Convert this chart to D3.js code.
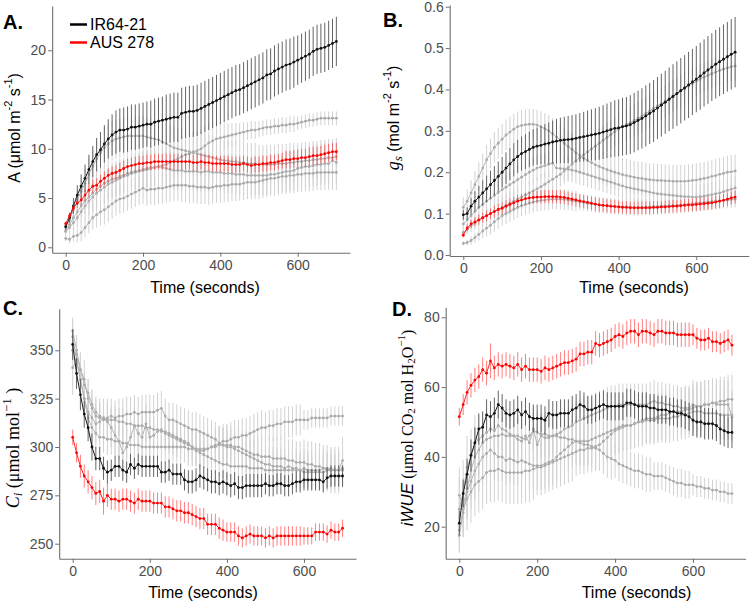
<!DOCTYPE html>
<html><head><meta charset="utf-8">
<script src="https://cdn.jsdelivr.net/npm/d3@7"></script>
<style>body{margin:0;background:#fff}svg{display:block}</style>
</head><body>
<svg id="chart" width="752" height="604"></svg>
<script>
const times = [0,10,20,30,40,50,60,70,80,90,100,110,120,130,140,150,160,170,180,190,200,210,220,230,240,250,260,270,280,290,300,310,320,330,340,350,360,370,380,390,400,410,420,430,440,450,460,470,480,490,500,510,520,530,540,550,560,570,580,590,600,610,620,630,640,650,660,670,680,690,700];
const legendLabels = ["IR64-21","AUS 278"];

// ---------- Panel A : A (µmol m-2 s-1) ----------
const A_IR64 = [2.1,3.0,4.2,5.3,6.2,7.0,7.9,8.7,9.4,9.9,
10.5,11.0,11.4,11.7,11.9,11.9,12.0,12.2,12.2,12.3,
12.4,12.5,12.5,12.7,12.8,12.9,13.0,13.1,13.2,13.2,
13.6,13.7,13.8,13.8,13.9,14.1,14.3,14.5,14.7,14.9,
15.1,15.3,15.5,15.7,15.9,16.0,16.2,16.4,16.6,16.8,
17.0,17.2,17.5,17.6,17.9,18.1,18.3,18.5,18.6,18.8,
19.0,19.2,19.4,19.6,19.9,20.1,20.2,20.3,20.5,20.7,20.9];
const A_IR64_se = [0.3,0.5,0.8,1.0,1.2,1.4,1.5,1.6,1.7,1.8,
1.9,2.0,2.1,2.2,2.2,2.3,2.3,2.3,2.3,2.3,
2.3,2.3,2.4,2.4,2.4,2.4,2.5,2.5,2.5,2.5,
2.6,2.6,2.6,2.6,2.6,2.6,2.6,2.6,2.6,2.6,
2.6,2.6,2.6,2.6,2.6,2.6,2.6,2.6,2.6,2.6,
2.6,2.6,2.6,2.6,2.6,2.6,2.6,2.6,2.6,2.6,
2.5,2.5,2.5,2.5,2.5,2.5,2.5,2.5,2.5,2.5,2.5];
const A_AUS = [2.4,3.2,4.0,4.5,4.8,5.3,5.8,6.2,6.3,6.7,
7.0,7.3,7.5,7.6,7.8,8.0,8.2,8.3,8.4,8.5,
8.5,8.6,8.6,8.7,8.7,8.7,8.7,8.7,8.7,8.7,
8.7,8.7,8.7,8.6,8.6,8.7,8.6,8.6,8.5,8.5,
8.5,8.5,8.5,8.4,8.4,8.4,8.5,8.4,8.3,8.4,
8.4,8.5,8.5,8.6,8.6,8.7,8.8,8.9,8.9,9.0,
9.0,9.1,9.1,9.2,9.3,9.3,9.4,9.5,9.6,9.7,9.7];
const A_AUS_se = [0.2,0.3,0.4,0.5,0.5,0.6,0.6,0.7,0.7,0.7,
0.7,0.7,0.7,0.7,0.8,0.8,0.8,0.8,0.8,0.8,
0.8,0.8,0.8,0.8,0.8,0.8,0.8,0.8,0.8,0.8,
0.8,0.8,0.8,0.8,0.8,0.8,0.8,0.8,0.8,0.8,
0.8,0.8,0.8,0.8,0.8,0.8,0.8,0.8,0.8,0.8,
0.8,0.8,0.8,0.8,0.8,0.8,0.8,0.9,0.9,0.9,
0.9,0.9,0.9,0.9,0.9,0.9,0.9,0.9,0.9,0.9,0.9];
const A_G1 = [2.0,2.8,3.8,4.8,5.7,6.5,7.4,8.2,9.0,9.6,
10.1,10.5,10.8,11.0,11.1,11.2,11.3,11.3,11.3,11.3,
11.3,11.2,11.1,11.0,10.9,10.7,10.5,10.3,10.1,10.0,
9.9,9.8,9.7,9.6,9.5,9.4,9.3,9.2,9.1,9.0,
8.9,8.8,8.8,8.7,8.7,8.6,8.6,8.5,8.5,8.5,
8.4,8.4,8.4,8.4,8.4,8.5,8.5,8.5,8.6,8.6,
8.7,8.7,8.8,8.8,8.9,8.9,9.0,9.0,9.1,9.1,9.2];
const A_G1_se = [0.4,0.6,0.9,1.1,1.3,1.5,1.6,1.7,1.8,1.9,
2.0,2.0,2.0,2.0,2.0,2.0,2.0,2.0,2.0,2.0,
2.1,2.1,2.1,2.1,2.1,2.1,2.1,2.1,2.1,2.1,
2.2,2.2,2.2,2.2,2.2,2.2,2.2,2.2,2.2,2.2,
2.1,2.1,2.1,2.1,2.1,2.1,2.1,2.1,2.1,2.1,
2.0,2.0,2.0,2.0,2.0,2.0,2.0,2.0,2.0,2.0,
1.9,1.9,1.9,1.9,1.9,1.9,1.9,1.9,1.9,1.9,1.9];
const A_G2 = [1.6,2.0,2.5,3.0,3.6,4.2,4.7,5.1,5.5,5.8,
6.1,6.4,6.6,6.8,7.0,7.2,7.3,7.5,7.6,7.7,
7.8,7.9,8.0,8.1,8.2,8.3,8.4,8.6,8.8,9.0,
9.2,9.4,9.5,9.7,9.8,10.0,10.3,10.6,10.8,11.0,
11.1,11.2,11.3,11.4,11.5,11.6,11.7,11.8,11.9,11.9,
12.0,12.1,12.2,12.2,12.3,12.3,12.4,12.4,12.5,12.5,
12.6,12.7,12.8,12.9,12.9,13.0,13.1,13.1,13.1,13.1,13.1];
const A_G2_se = [0.5,0.7,0.9,1.0,1.2,1.3,1.4,1.5,1.6,1.6,
1.7,1.7,1.7,1.7,1.7,1.7,1.7,1.7,1.7,1.7,
1.9,1.9,1.9,1.9,1.9,1.9,1.9,1.9,1.9,1.9,
2.0,2.0,2.0,2.0,2.0,2.0,2.0,2.0,2.0,2.0,
1.5,1.4,1.3,1.2,1.1,1.0,1.0,0.9,0.9,0.9,
0.8,0.8,0.8,0.8,0.8,0.8,0.8,0.8,0.8,0.8,
0.7,0.7,0.7,0.7,0.7,0.7,0.7,0.7,0.7,0.7,0.7];
const A_G3 = [1.7,2.3,3.0,3.6,4.2,4.7,5.1,5.5,5.9,6.2,
6.5,6.7,6.9,7.0,7.2,7.3,7.5,7.6,7.7,7.8,
7.9,8.0,8.1,8.1,8.2,8.1,8.0,7.9,7.8,7.8,
7.8,7.7,7.7,7.7,7.7,7.6,7.7,7.7,7.6,7.6,
7.6,7.5,7.5,7.5,7.4,7.4,7.4,7.3,7.3,7.3,
7.3,7.3,7.3,7.4,7.4,7.5,7.6,7.7,7.7,7.8,
8.0,8.1,8.2,8.2,8.3,8.4,8.4,8.5,8.5,8.8,8.6];
const A_G3_se = [0.3,0.5,0.7,0.9,1.1,1.3,1.4,1.5,1.6,1.7,
1.8,1.8,1.8,1.8,1.8,1.8,1.8,1.8,1.8,1.8,
1.9,1.9,1.9,1.9,1.9,1.9,1.9,1.9,1.9,1.9,
2.0,2.0,2.0,2.0,2.0,2.0,2.0,2.0,2.0,2.0,
2.0,2.0,2.0,2.0,2.0,2.0,2.0,2.0,2.0,2.0,
2.0,2.0,2.0,2.0,2.0,2.0,2.0,2.0,2.0,2.0,
2.1,2.1,2.1,2.1,2.1,2.1,2.1,2.1,2.1,2.1,2.1];
const A_G4 = [0.9,0.8,1.1,1.2,1.5,2.0,2.5,3.0,3.3,3.6,
3.8,4.1,4.4,4.7,4.9,5.0,5.2,5.4,5.6,5.8,
6.0,5.8,5.9,5.9,6.0,6.0,6.1,6.2,6.3,6.3,
6.3,6.3,6.2,6.2,6.1,6.1,6.1,6.0,6.1,6.2,
6.2,6.3,6.3,6.4,6.4,6.4,6.5,6.6,6.6,6.6,
6.7,6.8,6.9,7.0,7.0,7.1,7.2,7.2,7.3,7.3,
7.4,7.4,7.5,7.5,7.5,7.6,7.6,7.6,7.6,7.6,7.6];
const A_G4_se = [0.3,0.4,0.5,0.7,0.9,1.0,1.1,1.2,1.3,1.4,
1.5,1.5,1.5,1.5,1.5,1.5,1.5,1.5,1.5,1.5,
1.6,1.6,1.6,1.6,1.6,1.6,1.6,1.6,1.6,1.6,
1.7,1.7,1.7,1.7,1.7,1.7,1.7,1.7,1.7,1.7,
1.7,1.7,1.7,1.7,1.7,1.7,1.7,1.7,1.7,1.7,
1.8,1.8,1.8,1.8,1.8,1.8,1.8,1.8,1.8,1.8,
1.8,1.8,1.8,1.8,1.8,1.8,1.8,1.8,1.8,1.8,1.8];

// ---------- Panel B : gs (mol m-2 s-1) ----------
const B_IR64 = [0.097,0.100,0.118,0.130,0.140,0.150,0.160,0.170,0.180,0.190,
0.200,0.210,0.220,0.230,0.238,0.245,0.250,0.255,0.260,0.263,
0.265,0.268,0.270,0.273,0.275,0.277,0.278,0.279,0.280,0.282,
0.284,0.286,0.288,0.290,0.292,0.294,0.297,0.300,0.303,0.306,
0.307,0.310,0.312,0.315,0.320,0.325,0.330,0.336,0.342,0.348,
0.355,0.362,0.369,0.376,0.383,0.390,0.397,0.404,0.411,0.418,
0.425,0.432,0.440,0.447,0.454,0.461,0.467,0.473,0.479,0.485,0.490];
const B_IR64_se = [0.012,0.015,0.020,0.024,0.027,0.030,0.032,0.034,0.035,0.036,
0.037,0.038,0.039,0.040,0.040,0.041,0.042,0.043,0.044,0.045,
0.046,0.048,0.050,0.052,0.054,0.055,0.056,0.057,0.058,0.058,
0.059,0.060,0.061,0.062,0.063,0.064,0.065,0.066,0.067,0.068,
0.069,0.070,0.070,0.071,0.072,0.072,0.073,0.074,0.074,0.075,
0.075,0.076,0.076,0.077,0.078,0.078,0.079,0.079,0.080,0.080,
0.080,0.081,0.081,0.082,0.082,0.083,0.083,0.084,0.084,0.085,0.085];
const B_AUS = [0.048,0.065,0.075,0.080,0.085,0.090,0.095,0.100,0.105,0.110,
0.113,0.118,0.122,0.126,0.130,0.133,0.136,0.138,0.139,0.140,
0.140,0.141,0.141,0.141,0.141,0.140,0.139,0.137,0.135,0.133,
0.131,0.129,0.127,0.125,0.123,0.121,0.120,0.119,0.118,0.117,
0.116,0.115,0.115,0.114,0.114,0.114,0.114,0.114,0.114,0.115,
0.115,0.116,0.116,0.117,0.118,0.118,0.119,0.120,0.121,0.121,
0.122,0.123,0.124,0.125,0.126,0.128,0.130,0.132,0.135,0.138,0.140];
const B_AUS_se = [0.006,0.008,0.010,0.011,0.012,0.012,0.013,0.013,0.014,0.014,
0.015,0.015,0.015,0.015,0.015,0.015,0.015,0.015,0.015,0.015,
0.016,0.016,0.016,0.016,0.016,0.016,0.016,0.016,0.016,0.016,
0.016,0.016,0.016,0.016,0.016,0.016,0.016,0.016,0.016,0.016,
0.015,0.015,0.015,0.015,0.015,0.015,0.015,0.015,0.015,0.015,
0.015,0.015,0.015,0.015,0.015,0.015,0.015,0.015,0.015,0.015,
0.016,0.016,0.016,0.016,0.016,0.016,0.016,0.016,0.016,0.016,0.016];
const B_G1 = [0.115,0.130,0.150,0.170,0.190,0.210,0.230,0.245,0.260,0.270,
0.280,0.290,0.297,0.304,0.310,0.313,0.315,0.316,0.316,0.314,
0.310,0.305,0.300,0.293,0.285,0.278,0.270,0.262,0.255,0.247,
0.240,0.234,0.228,0.223,0.218,0.214,0.210,0.206,0.203,0.200,
0.197,0.194,0.192,0.190,0.188,0.186,0.185,0.183,0.182,0.181,
0.180,0.180,0.179,0.179,0.178,0.178,0.178,0.178,0.179,0.180,
0.181,0.183,0.185,0.187,0.190,0.192,0.195,0.197,0.200,0.201,0.203];
const B_G1_se = [0.025,0.028,0.030,0.032,0.034,0.035,0.036,0.036,0.037,0.037,
0.037,0.037,0.037,0.037,0.037,0.037,0.037,0.037,0.037,0.037,
0.038,0.038,0.038,0.038,0.038,0.038,0.038,0.038,0.038,0.038,
0.040,0.040,0.040,0.040,0.040,0.040,0.040,0.040,0.040,0.040,
0.040,0.040,0.040,0.040,0.040,0.040,0.040,0.040,0.040,0.040,
0.040,0.040,0.040,0.040,0.040,0.040,0.040,0.040,0.040,0.040,
0.040,0.040,0.040,0.040,0.040,0.040,0.040,0.040,0.040,0.040,0.040];
const B_G2 = [0.055,0.062,0.070,0.077,0.084,0.090,0.095,0.100,0.105,0.110,
0.115,0.120,0.125,0.130,0.135,0.140,0.145,0.150,0.155,0.160,
0.165,0.171,0.177,0.183,0.189,0.195,0.203,0.211,0.219,0.227,
0.235,0.242,0.249,0.256,0.263,0.270,0.277,0.284,0.291,0.298,
0.305,0.310,0.315,0.320,0.325,0.330,0.336,0.342,0.348,0.354,
0.360,0.366,0.372,0.378,0.384,0.390,0.396,0.402,0.408,0.414,
0.420,0.425,0.430,0.434,0.438,0.442,0.446,0.449,0.452,0.455,0.457];
const B_G2_se = [0.010,0.012,0.014,0.016,0.018,0.020,0.022,0.024,0.025,0.026,
0.027,0.027,0.027,0.027,0.027,0.027,0.027,0.027,0.027,0.027,
0.030,0.030,0.030,0.030,0.030,0.030,0.030,0.030,0.030,0.030,
0.035,0.035,0.035,0.035,0.035,0.035,0.035,0.035,0.035,0.035,
0.040,0.040,0.040,0.040,0.040,0.040,0.040,0.040,0.040,0.040,
0.040,0.040,0.040,0.040,0.040,0.040,0.040,0.040,0.040,0.040,
0.035,0.035,0.035,0.035,0.035,0.035,0.035,0.035,0.035,0.035,0.035];
const B_G3 = [0.075,0.085,0.095,0.105,0.115,0.122,0.130,0.137,0.144,0.151,
0.158,0.164,0.170,0.176,0.182,0.188,0.194,0.200,0.205,0.210,
0.213,0.216,0.219,0.222,0.210,0.209,0.208,0.207,0.205,0.203,
0.200,0.197,0.194,0.191,0.188,0.185,0.182,0.179,0.176,0.173,
0.170,0.167,0.164,0.162,0.160,0.158,0.156,0.154,0.152,0.150,
0.148,0.147,0.146,0.145,0.144,0.143,0.142,0.141,0.141,0.140,
0.140,0.141,0.142,0.144,0.146,0.148,0.150,0.153,0.156,0.159,0.162];
const B_G3_se = [0.015,0.018,0.020,0.022,0.024,0.026,0.028,0.030,0.030,0.030,
0.030,0.030,0.030,0.030,0.030,0.030,0.030,0.030,0.030,0.030,
0.030,0.030,0.030,0.030,0.030,0.030,0.030,0.030,0.030,0.030,
0.030,0.030,0.030,0.030,0.030,0.030,0.030,0.030,0.030,0.030,
0.030,0.030,0.030,0.030,0.030,0.030,0.030,0.030,0.030,0.030,
0.030,0.030,0.030,0.030,0.030,0.030,0.030,0.030,0.030,0.030,
0.030,0.030,0.030,0.030,0.030,0.030,0.030,0.030,0.030,0.030,0.030];
const B_G4 = [0.028,0.030,0.035,0.042,0.050,0.058,0.065,0.072,0.080,0.088,
0.095,0.100,0.105,0.110,0.115,0.119,0.122,0.125,0.128,0.130,
0.132,0.133,0.134,0.135,0.135,0.135,0.134,0.133,0.131,0.130,
0.128,0.127,0.125,0.124,0.122,0.121,0.120,0.119,0.118,0.118,
0.117,0.117,0.116,0.116,0.115,0.115,0.115,0.116,0.116,0.117,
0.117,0.118,0.118,0.119,0.119,0.120,0.121,0.122,0.123,0.124,
0.125,0.126,0.127,0.128,0.129,0.130,0.131,0.132,0.133,0.134,0.135];
const B_G4_se = [0.005,0.007,0.010,0.012,0.015,0.017,0.020,0.022,0.024,0.025,
0.025,0.025,0.025,0.025,0.025,0.025,0.025,0.025,0.025,0.025,
0.025,0.025,0.025,0.025,0.025,0.025,0.025,0.025,0.025,0.025,
0.020,0.020,0.020,0.020,0.020,0.020,0.020,0.020,0.020,0.020,
0.020,0.020,0.020,0.020,0.020,0.020,0.020,0.020,0.020,0.020,
0.020,0.020,0.020,0.020,0.020,0.020,0.020,0.020,0.020,0.020,
0.020,0.020,0.020,0.020,0.020,0.020,0.020,0.020,0.020,0.020,0.020];

// ---------- Panel C : Ci (µmol mol-1) ----------
const C_IR64 = [353,338,327,317,310,300,294,294,289,287,
288,290,290,288,287,291,289,291,290,290,
290,290,290,287,287,288,286,286,286,283,
282,282,283,285,284,283,282,282,281,282,
281,280,281,279,279,280,280,280,280,280,
281,280,280,281,281,280,280,281,282,282,
283,283,283,283,283,282,284,285,285,285,285];
const C_IR64_se = [8,8,8,7,7,7,6,6,6,6,
5.5,5.5,5.5,5.5,5.5,5.5,5.5,5.5,5.5,5.5,
5.5,5.5,5.5,5.5,5.5,5.5,5.5,5.5,5.5,5.5,
6,6,6,6,6,6,6,6,6,6,
6,6,6,6,6,6,6,6,6,6,
5.5,5.5,5.5,5.5,5.5,5.5,5.5,5.5,5.5,5.5,
5.5,5.5,5.5,5.5,5.5,5.5,5.5,5.5,5.5,5.5,5.5];
const C_AUS = [305,297,290,285,282,279,276,277,272,275,
273,273,272,273,273,272,271,273,272,272,
272,271,271,271,269,269,268,267,267,266,
266,265,264,263,263,260,260,260,258,257,
256,256,256,254,253,254,255,254,254,254,
253,254,253,254,254,254,254,254,254,254,
254,254,254,256,256,256,255,257,256,256,258];
const C_AUS_se = [4,5,6,6,6,6,6,6,7,6,
5.5,5.5,5.5,5.5,5.5,5.5,5.5,5.5,5.5,5.5,
5.5,5.5,5.5,5.5,5.5,5.5,5.5,5.5,5.5,5.5,
5.5,5.5,5.5,5.5,5.5,5.5,5.5,5.5,5.5,5.5,
5,5,5,5,5,5,5,5,5,5,
5,5,5,5,5,5,5,5,5,5,
4.5,4.5,4.5,4.5,4.5,4.5,4.5,4.5,4.5,4.5,4.5];
const C_G1 = [360,350,340,335,325,320,316,315,314,315,
316,315,316,316,317,317,318,317,318,318,
318,318,319,320,316,314,314,313,312,311,
310,309,309,308,307,306,305,304,302,301,
300,300,299,298,297,296,295,294,293,292,
291,291,290,290,290,289,290,289,289,288,
289,288,288,288,288,289,288,289,288,288,289];
const C_G1_se = [7,8,9,10,10,10,10,10,10,10,
9,9,9,9,9,9,9,9,9,9,
9,9,9,9,9,9,9,9,9,9,
9,9,9,9,9,9,9,9,9,9,
9,9,9,9,9,9,9,9,9,9,
10,10,10,10,10,10,10,10,10,10,
10,10,10,10,10,10,10,10,10,10,10];
const C_G2 = [341,345,335,325,318,315,312,313,315,313,
310,306,303,297,300,305,311,307,305,312,
305,306,308,309,307,306,305,304,303,302,
301,300,299,298,298,299,300,301,302,303,
303,304,305,305,306,306,307,308,309,310,
310,311,311,312,312,313,313,313,314,314,
314,314,315,315,315,315,315,316,316,316,316];
const C_G2_se = [14,12,11,10,10,10,10,10,10,10,
10,10,10,10,10,10,10,10,10,10,
9,9,9,9,9,9,9,9,9,9,
9,9,9,9,9,9,9,9,9,9,
9,9,9,9,9,9,9,9,9,9,
8,8,8,8,8,8,8,8,8,8,
5,5,5,5,5,5,5,5,5,5,5];
const C_G3 = [357,345,335,325,315,310,307,305,305,304,
304,303,303,302,302,301,301,301,300,300,
300,300,300,300,300,300,300,300,300,300,
299,299,299,299,299,299,300,300,301,301,
301,301,300,300,299,298,297,296,296,295,
295,295,294,294,294,294,293,293,292,292,
292,291,291,290,290,289,289,288,288,288,293];
const C_G3_se = [8,8,8,8,8,8,8,8,8,8,
8,8,8,8,8,8,8,8,8,8,
8,8,8,8,8,8,8,8,8,8,
9,9,9,9,9,9,9,9,9,9,
10,10,10,10,10,10,10,10,10,10,
11,11,11,11,11,11,11,11,11,11,
12,12,12,12,12,12,12,12,12,12,12];
const C_G4 = [350,348,340,332,328,322,318,316,315,314,
314,314,313,313,312,312,311,311,311,310,
310,309,309,308,308,307,306,305,304,303,
302,300,298,297,296,295,294,293,292,291,
291,290,290,290,290,290,289,289,289,289,
288,288,288,288,288,288,288,288,288,288,
287,287,287,287,287,287,288,288,288,288,288];
const C_G4_se = [6,6,7,7,7,7,7,7,7,7,
7,7,7,7,7,7,7,7,7,7,
7,7,7,7,7,7,7,7,7,7,
7,7,7,7,7,7,7,7,7,7,
8,8,8,8,8,8,8,8,8,8,
8,8,8,8,8,8,8,8,8,8,
8,8,8,8,8,8,8,8,8,8,8];

// ---------- Panel D : iWUE ----------
const D_IR64 = [21,29.5,35,40.5,44,48,48.5,52,51.5,52.5,
55,54,52.5,52,52.5,53.5,52,53,51.5,51,
51,51,50.5,52.5,52,52,52.5,52.5,52.5,53.5,
54,55,54.5,53.5,53.5,54,54.5,55,54.5,54.5,
54.5,54.5,54.5,55.5,55.5,55,54.5,54.5,54.5,54,
54,53.5,53.5,53.5,53,53,52.5,52.5,52,51.5,
50.5,50,50,49.5,49.5,49.5,49,48,47.5,47,47];
const D_IR64_se = [3.5,4,4.5,4.5,4.5,4.5,4.5,4.5,4.5,4.5,
4,4,4,4,4,4,4,4,4,4,
4,4,4,4,4,4,4,4,4,4,
4,4,4,4,4,4,4,4,4,4,
4,4,4,4,4,4,4,4,4,4,
4,4,4,4,4,4,4,4,4,4,
4.5,4.5,4.5,4.5,4.5,4.5,4.5,4.5,4.5,4.5,4.5];
const D_AUS = [51.5,55,58.5,60.5,62,63,65,64,67.5,65.5,
66.5,66,66.5,66,65.5,66.5,65,66,65,65,
65,64.5,65.5,65,65.5,66,66.5,67,67,67.5,
68,69.5,69.5,70,70,72.5,72,72.5,73,73.5,
74.5,75,74.5,75.5,76,76,75,76,76,75.5,
75,76,76,75.5,75.5,75.5,75,75,75,75,
75,74,73.5,73.5,74,73,73,72.5,73,73.5,72];
const D_AUS_se = [2.5,3,3.5,3.5,3.5,3.5,3.5,3.5,5,3.5,
3.5,3.5,3.5,3.5,3.5,3.5,3.5,3.5,3.5,3.5,
3.5,3.5,3.5,3.5,3.5,3.5,3.5,3.5,3.5,3.5,
3.5,3.5,3.5,3.5,3.5,3.5,3.5,3.5,3.5,3.5,
3.5,3.5,3.5,3.5,3.5,3.5,3.5,3.5,3.5,3.5,
3.5,3.5,3.5,3.5,3.5,3.5,3.5,3.5,3.5,3.5,
3,3,3,3,3,3,3,3,3,3,3];
const D_G1 = [25,30,37,40,44,45,46,47,48,47.5,
49,48,47.5,46.5,46,46,45.5,45,46,47.5,
47,46.5,46.5,46,46,46,45.5,45.5,45,45,
44.5,44,43.5,43.5,43,42.5,42,41,40,39.5,
39,38,37.5,37,36.5,36,36,35.5,35,35,
34.5,34.5,34.5,34,33.5,33,32.5,32.5,32,32,
32,31.5,31.5,31,31,30.5,30.5,30,30,29.5,29.5];
const D_G1_se = [9,9,9,8,8,7,7,7,7,7,
6,6,6,6,6,6,6,6,6,6,
6,6,6,6,6,6,6,6,6,6,
6,6,6,6,6,6,6,6,6,6,
5,5,5,5,5,5,5,5,5,5,
4,4,4,4,4,4,4,4,4,4,
3,3,3,3,3,3,3,3,3,3,3];
const D_G2 = [19,25,28,30,32,33,34,35.5,36,36,
36.5,36,35.5,35.5,35.5,35.5,35.5,36,36,36.5,
37,37,37.5,38,38.5,39,39.5,40,40.5,41,
41.5,42,42,42.5,42.5,43,43.5,44.5,45.5,46.5,
47.5,48,48.5,49,49,49.5,50,50.5,51,51,
51,51.5,52,52,52.5,53,53,53,53.5,53.5,
54,54.5,54.5,55,55,55.5,55.5,56,56,56.5,56.5];
const D_G2_se = [6,8,9,9,9,9,9,9,9,9,
9,9,9,9,9,9,9,9,9,9,
8,8,8,8,8,8,8,8,8,8,
7,7,7,7,7,7,7,7,7,7,
7,7,7,7,7,7,7,7,7,7,
7,7,7,7,7,7,7,7,7,7,
7,7,7,7,7,7,7,7,7,7,7];
const D_G3 = [17.5,24,30,33,36,38,40,41,42,41,
40,40,39,39.5,39,38.5,39,38.5,38,37.5,
37.5,37.5,38,38.5,39,40,41,42,43,44,
44.5,44.5,44.5,44.5,45,45.5,46,46.5,47,47.5,
48,48.5,49,49,49,49.5,50,50,50.5,50.5,
50.5,51,51,51,51,51.5,51.5,52,52,52.5,
53,53,53,52.5,52.5,52.5,52.5,52,52,52,52];
const D_G3_se = [5,7,8,8,8,8,8,8,8,8,
7,7,7,7,7,7,7,7,7,7,
7,7,7,7,7,7,7,7,7,7,
7,7,7,7,7,7,7,7,7,7,
7,7,7,7,7,7,7,7,7,7,
7,7,7,7,7,7,7,7,7,7,
7,7,7,7,7,7,7,7,7,7,7];
const D_G4 = [29,26,31,36,40,42,44,45,45.5,46,
46,46.5,46,46,46,45,44.5,46,44,48,
43.5,46,45.5,45.5,46,46.5,47,48,48.5,49,
50,50.5,51,51.5,52,52.5,53,53.5,54,54.5,
54.5,55,55,55,55,55,55,55,55,55.5,
56,55.5,55.5,55,55,54.5,54.5,54,54,54,
55,54.5,54.5,55,55,55.5,55,55,55,55,51.5];
const D_G4_se = [8,8,8,8,8,7,7,7,7,7,
6,6,6,6,6,6,6,6,6,6,
6,6,6,6,6,6,6,6,6,6,
6,6,6,6,6,6,6,6,6,6,
6,6,6,6,6,6,6,6,6,6,
6,6,6,6,6,6,6,6,6,6,
7,7,7,7,7,7,7,7,7,7,7];

const xTicks = [0,200,400,600];
const A_yTicks = [0,5,10,15,20];
const B_yTicks = [0,0.1,0.2,0.3,0.4,0.5,0.6];
const C_yTicks = [250,275,300,325,350];
const D_yTicks = [20,40,60,80];

// ---------- styles ----------
const STY = {
  grey: {bar:"#d2d2d2", barOp:1, line:"#b4b4b4", pt:"#ababab"},
  black:{bar:"#555555", barOp:0.9, line:"#1a1a1a", pt:"#111111"},
  red:  {bar:"#ff2a2a", barOp:0.6, line:"#ff1f1f", pt:"#ff0000"}
};
const SANS = "'Liberation Sans', Arial, sans-serif";
const SERIF = "'Liberation Serif', 'Times New Roman', serif";

const panels = [
  {label:"A.", lx:3, ly:29, x0:65.7, x600:297.7, v1:0, p1:247.3, v2:20, p2:50.3, yDom:[-0.55,24.5],
   yTicks:A_yTicks, fmt:d3.format("d"),
   xt:{x:205, y:292.7}, yt:{x:14, y:128}, ytitle:"A",
   series:[[A_G1,A_G1_se,"grey"],[A_G2,A_G2_se,"grey"],[A_G3,A_G3_se,"grey"],[A_G4,A_G4_se,"grey"],
           [A_IR64,A_IR64_se,"black"],[A_AUS,A_AUS_se,"red"]]},
  {label:"B.", lx:383, ly:27, x0:463.3, x600:696.3, v1:0, p1:255, v2:0.6, p2:6.7, yDom:[-0.0024,0.604],
   yTicks:B_yTicks, fmt:d3.format(".1f"),
   xt:{x:634, y:292.7}, yt:{x:393, y:118}, ytitle:"B",
   series:[[B_G1,B_G1_se,"grey"],[B_G2,B_G2_se,"grey"],[B_G3,B_G3_se,"grey"],[B_G4,B_G4_se,"grey"],
           [B_IR64,B_IR64_se,"black"],[B_AUS,B_AUS_se,"red"]]},
  {label:"C.", lx:3, ly:315, x0:72.7, x600:304, v1:250, p1:543.7, v2:350, p2:350.3, yDom:[242.2,371.5],
   yTicks:C_yTicks, fmt:d3.format("d"),
   xt:{x:203, y:597.7}, yt:{x:13, y:448}, ytitle:"C",
   series:[[C_G1,C_G1_se,"grey"],[C_G2,C_G2_se,"grey"],[C_G3,C_G3_se,"grey"],[C_G4,C_G4_se,"grey"],
           [C_IR64,C_IR64_se,"black"],[C_AUS,C_AUS_se,"red"]]},
  {label:"D.", lx:392, ly:316, x0:459.3, x600:693, v1:20, p1:526.7, v2:80, p2:317.3, yDom:[10.8,82.9],
   yTicks:D_yTicks, fmt:d3.format("d"),
   xt:{x:636.5, y:598}, yt:{x:407, y:428}, ytitle:"D",
   series:[[D_G1,D_G1_se,"grey"],[D_G2,D_G2_se,"grey"],[D_G3,D_G3_se,"grey"],[D_G4,D_G4_se,"grey"],
           [D_IR64,D_IR64_se,"black"],[D_AUS,D_AUS_se,"red"]]}
];

const svg = d3.select("#chart");

function yTitle(g, kind){
  const t = g.append("text").attr("text-anchor","middle").attr("dominant-baseline","central")
     .attr("fill","#000");
  const add = (txt, o={}) => {
    const s = t.append("tspan").text(txt);
    for (const k in o) s.attr(k, o[k]);
    return s;
  };
  if (kind==="A"){
    t.style("font-family",SANS).style("font-size","16px");
    add("A");
    add(" (μmol m");
    add("-2",{dy:-6,"font-size":"11px"});
    add(" s",{dy:6});
    add("-1",{dy:-6,"font-size":"11px"});
    add(")",{dy:6});
  } else if (kind==="B"){
    t.style("font-family",SANS).style("font-size","16px");
    add("g",{"font-style":"italic","font-family":SERIF,"font-size":"18px"});
    add("s",{"font-style":"italic","font-family":SERIF,"font-size":"13px",dy:4});
    add(" (mol m",{dy:-4});
    add("-2",{dy:-6,"font-size":"11px"});
    add(" s",{dy:6});
    add("-1",{dy:-6,"font-size":"11px"});
    add(")",{dy:6});
  } else if (kind==="C"){
    t.style("font-family",SERIF).style("font-size","18px");
    add("C",{"font-style":"italic"});
    add("i",{"font-style":"italic","font-size":"13px",dy:4});
    add(" (μmol mol",{dy:-4});
    add("−1",{dy:-7,"font-size":"13px"});
    add(" )",{dy:7});
  } else {
    t.style("font-family",SERIF).style("font-size","16px");
    add("iWUE",{"font-style":"italic","font-family":SANS,"font-size":"17px"});
    add(" (μmol CO");
    add("2",{dy:4,"font-size":"11px"});
    add(" mol H",{dy:-4});
    add("2",{dy:4,"font-size":"11px"});
    add("O",{dy:-4});
    add("−1",{dy:-6,"font-size":"11px"});
    add(")",{dy:6});
  }
  return t;
}

panels.forEach(p => {
  const k = (p.x600 - p.x0)/600;
  const x = d3.scaleLinear().domain([-35,735]).range([p.x0 - 35*k, p.x0 + 735*k]);
  const ky = (p.p2 - p.p1)/(p.v2 - p.v1);
  const y = d3.scaleLinear().domain(p.yDom).range([p.p1 + (p.yDom[0]-p.v1)*ky, p.p1 + (p.yDom[1]-p.v1)*ky]);
  const g = svg.append("g");

  const order = ["grey","black","red"];
  order.forEach(col => {
    const st = STY[col];
    p.series.filter(s => s[2]===col).forEach(([vals, se]) => {
      const data = times.map((t,i)=>({t, v:vals[i], e:se[i]}));
      g.append("g").selectAll("line").data(data).join("line")
        .attr("x1", d=>x(d.t)).attr("x2", d=>x(d.t))
        .attr("y1", d=>y(d.v-d.e)).attr("y2", d=>y(d.v+d.e))
        .attr("stroke", st.bar).attr("stroke-opacity", st.barOp).attr("stroke-width",1);
    });
    p.series.filter(s => s[2]===col).forEach(([vals]) => {
      const data = times.map((t,i)=>({t, v:vals[i]}));
      g.append("path").datum(data)
        .attr("d", d3.line().x(d=>x(d.t)).y(d=>y(d.v)))
        .attr("fill","none").attr("stroke", st.line).attr("stroke-width",1);
      g.append("g").selectAll("circle").data(data).join("circle")
        .attr("cx", d=>x(d.t)).attr("cy", d=>y(d.v)).attr("r",1.4).attr("fill", st.pt);
    });
  });

  // axes
  const ax = g.append("g").attr("transform",`translate(0,${y.range()[0]})`)
    .call(d3.axisBottom(x).tickValues(xTicks).tickSize(4).tickSizeOuter(0).tickPadding(3));
  const ay = g.append("g").attr("transform",`translate(${x.range()[0]},0)`)
    .call(d3.axisLeft(y).tickValues(p.yTicks).tickFormat(p.fmt).tickSize(4).tickSizeOuter(0).tickPadding(2));
  [ax, ay].forEach(a => {
    a.select(".domain").attr("stroke","#6e6e6e").attr("stroke-width",1.1);
    a.selectAll(".tick line").attr("stroke","#6e6e6e");
    a.selectAll(".tick text").attr("fill","#4d4d4d").style("font-family",SANS).style("font-size","14px");
  });

  // titles
  g.append("text").attr("x",p.xt.x).attr("y",p.xt.y).attr("text-anchor","middle")
    .style("font-family",SANS).style("font-size","16px").attr("fill","#000").text("Time (seconds)");
  yTitle(g, p.ytitle).attr("transform",`translate(${p.yt.x},${p.yt.y}) rotate(-90)`);
  g.append("text").attr("x",p.lx).attr("y",p.ly).style("font-family",SANS)
    .style("font-size","20px").style("font-weight","bold").attr("fill","#000").text(p.label);
});

// legend (panel A)
const leg = svg.append("g");
const legCols = ["#000000","#ff0000"];
legendLabels.forEach((lab,i)=>{
  const yy = 24.5 + i*18;
  leg.append("line").attr("x1",70).attr("x2",87).attr("y1",yy).attr("y2",yy)
    .attr("stroke",legCols[i]).attr("stroke-width",2.5);
  leg.append("text").attr("x",90).attr("y",yy+5.8).style("font-family",SANS).style("font-size","16px")
    .attr("fill","#000").text(lab);
});
</script>
</body></html>
